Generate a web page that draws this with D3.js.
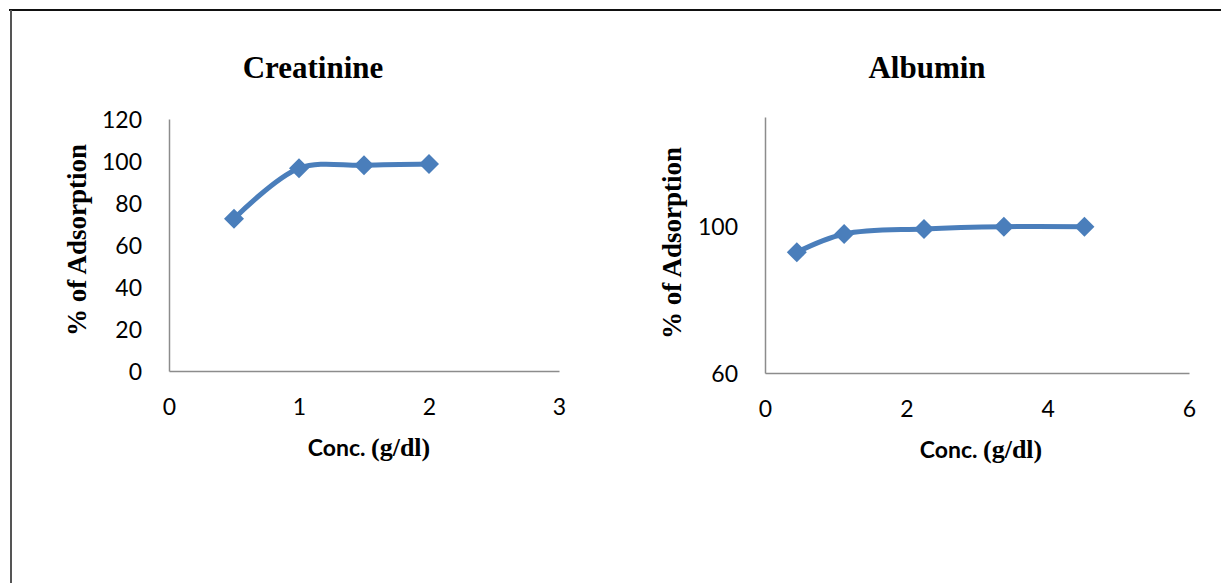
<!DOCTYPE html>
<html>
<head>
<meta charset="utf-8">
<script src="https://cdn.jsdelivr.net/npm/d3@7"></script>
<style>
  html, body { margin: 0; padding: 0; background: #fff; }
  svg { display: block; }
</style>
</head>
<body>
<svg id="chart" width="1221" height="583"></svg>
<script>
// Creatinine series
const creatinineConc = [0.5, 1, 1.5, 2];
const creatinineAds = [72.5, 96.5, 98, 98.6];
const creatinineXTicks = [0, 1, 2, 3];
const creatinineYTicks = [0, 20, 40, 60, 80, 100, 120];

// Albumin series
const albuminConc = [0.45, 1.12, 2.25, 3.38, 4.52];
const albuminAds = [93, 98, 99.4, 100, 100];
const albuminXTicks = [0, 2, 4, 6];
const albuminYTicks = [60, 100];

const svg = d3.select("#chart");
const blue = "#4A7EBB";
const tickFont = "Lato, 'Open Sans', sans-serif";
const serif = "'Liberation Serif', 'Times New Roman', serif";

// outer frame
svg.append("line").attr("x1", 9).attr("x2", 1221).attr("y1", 10).attr("y2", 10)
  .attr("stroke", "#111").attr("stroke-width", 2);
svg.append("line").attr("x1", 11).attr("x2", 11).attr("y1", 10).attr("y2", 583)
  .attr("stroke", "#555").attr("stroke-width", 2);

function panel(cfg) {
  const x = d3.scaleLinear().domain(cfg.xDomain).range([cfg.left, cfg.right]);
  const y = d3.scaleLinear().domain(cfg.yDomain).range([cfg.bottom, cfg.top]);
  const g = svg.append("g");

  // axes
  const xAxis = g.append("g").attr("transform", `translate(0,${cfg.bottom})`)
    .call(d3.axisBottom(x).tickValues(cfg.xTicks).tickSize(0).tickPadding(28).tickFormat(d3.format("d")));
  const yAxis = g.append("g").attr("transform", `translate(${cfg.left},0)`)
    .call(d3.axisLeft(y).tickValues(cfg.yTicks).tickSize(0).tickPadding(27).tickFormat(d3.format("d")));
  [xAxis, yAxis].forEach(a => {
    a.select(".domain").attr("stroke", "#8c8c8c").attr("stroke-width", 1.5);
    a.selectAll("text").attr("font-family", tickFont).attr("font-size", 23).attr("fill", "#000");
  });
  yAxis.selectAll("text").attr("dy", "0.36em");

  // title
  g.append("text").attr("x", cfg.titleX).attr("y", 78).attr("text-anchor", "middle")
    .attr("font-family", serif).attr("font-weight", "bold").attr("font-size", 31)
    .text(cfg.title);

  // y axis title
  g.append("text")
    .attr("transform", `translate(${cfg.yLabelX},${cfg.yLabelY}) rotate(-90)`)
    .attr("text-anchor", "middle")
    .attr("font-family", serif).attr("font-weight", "bold").attr("font-size", 27)
    .text("% of Adsorption");

  // x axis title
  const xt = g.append("text").attr("x", cfg.xLabelX).attr("y", cfg.xLabelY).attr("text-anchor", "middle")
    .attr("font-weight", "bold");
  xt.append("tspan").attr("font-family", tickFont).attr("font-size", 23).text("Conc. ");
  xt.append("tspan").attr("font-family", serif).attr("font-size", 26).text("(g/dl)");

  // smoothed line
  const pts = cfg.xs.map((v, i) => [v, cfg.ys[i]]);
  g.append("path").datum(pts)
    .attr("fill", "none").attr("stroke", blue).attr("stroke-width", 5)
    .attr("stroke-linejoin", "round")
    .attr("d", d3.line().x(d => x(d[0])).y(d => y(d[1])).curve(d3.curveCatmullRom.alpha(0.5)));

  // diamond markers
  g.selectAll(".m").data(pts).enter().append("path")
    .attr("transform", d => `translate(${x(d[0])},${y(d[1])})`)
    .attr("d", "M0,-10L10,0L0,10L-10,0Z")
    .attr("fill", blue);
}

panel({
  title: "Creatinine", titleX: 313,
  xs: creatinineConc, ys: creatinineAds,
  xDomain: [0, 3], yDomain: [0, 120],
  xTicks: creatinineXTicks, yTicks: creatinineYTicks,
  left: 169, right: 559, top: 119, bottom: 371,
  yLabelX: 86, yLabelY: 240,
  xLabelX: 369, xLabelY: 456
});

panel({
  title: "Albumin", titleX: 927,
  xs: albuminConc, ys: albuminAds,
  xDomain: [0, 6], yDomain: [60, 130],
  xTicks: albuminXTicks, yTicks: albuminYTicks,
  left: 765, right: 1189, top: 117, bottom: 373,
  yLabelX: 681, yLabelY: 243,
  xLabelX: 981, xLabelY: 458
});
</script>
</body>
</html>
